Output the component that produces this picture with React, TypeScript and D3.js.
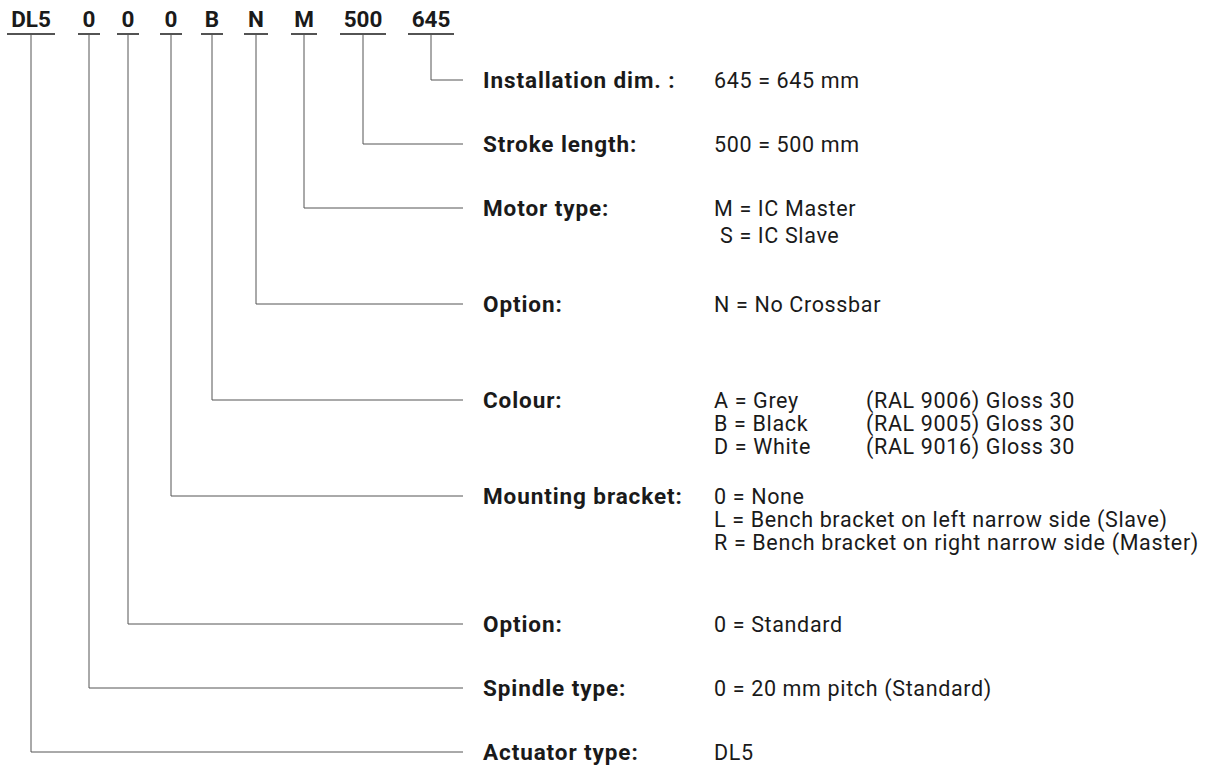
import React from "react";
import * as d3 from "d3";

// type code segments, left to right
const codes = ["DL5", "0", "0", "0", "B", "N", "M", "500", "645"];

// rows top to bottom, each one explains one code segment
const rowLabels = [
  "Installation dim. :",
  "Stroke length:",
  "Motor type:",
  "Option:",
  "Colour:",
  "Mounting bracket:",
  "Option:",
  "Spindle type:",
  "Actuator type:",
];
const rowCodeIndex = [8, 7, 6, 5, 4, 3, 2, 1, 0];
const rowValues = [
  ["645 = 645 mm"],
  ["500 = 500 mm"],
  ["M = IC Master", " S = IC Slave"],
  ["N = No Crossbar"],
  ["A = Grey|(RAL 9006) Gloss 30", "B = Black|(RAL 9005) Gloss 30", "D = White|(RAL 9016) Gloss 30"],
  [
    "0 = None",
    "L = Bench bracket on left narrow side (Slave)",
    "R = Bench bracket on right narrow side (Master)",
  ],
  ["0 = Standard"],
  ["0 = 20 mm pitch (Standard)"],
  ["DL5"],
];

// layout
const W = 1213;
const H = 769;
const codeCenters = [31, 89, 128, 171, 212, 256, 304, 363, 431];
const codeWidths = [42, 16, 16, 16, 16, 18, 20, 40, 40];
const rowSlots = [0, 2, 4, 7, 10, 13, 17, 19, 21];
const rowSubStep = [23, 23, 27, 23, 23, 23, 23, 23, 23];
const CODE_BASE = 27;
const UNDER_Y = 34;
const LINE_END = 463;
const LABEL_X = 483;
const VALUE_X = 714;
const COL2_X = 866;
const FONT = "Roboto, 'Open Sans', sans-serif";
const INK = "#1a1a1a";
const STROKE = "#555";

const App = () => {
  const y = d3.scaleLinear().domain([0, 21]).range([80, 752]);
  const codeX = d3.scaleOrdinal<number, number>().domain(d3.range(codes.length)).range(codeCenters);

  return (
    <svg
      width={W}
      height={H}
      style={{ position: "absolute", left: 0, top: 0, background: "#fff" }}
      fontFamily={FONT}
    >
      {/* code header */}
      {codes.map((c, i) => (
        <g key={"c" + i}>
          <text
            x={codeX(i)}
            y={CODE_BASE}
            textAnchor="middle"
            fontSize={22.5}
            fontWeight="bold"
            fill={INK}
          >
            {c}
          </text>
          <line
            x1={codeX(i) - codeWidths[i] / 2 - 3}
            x2={codeX(i) + codeWidths[i] / 2 + 3}
            y1={UNDER_Y}
            y2={UNDER_Y}
            stroke={INK}
            strokeWidth={1.5}
          />
        </g>
      ))}

      {/* connectors */}
      {rowLabels.map((_, r) => {
        const cx = codeX(rowCodeIndex[r]);
        const ry = y(rowSlots[r]);
        return (
          <path
            key={"p" + r}
            d={d3.line()([
              [cx, UNDER_Y],
              [cx, ry],
              [LINE_END, ry],
            ])!}
            fill="none"
            stroke={STROKE}
            strokeWidth={1}
          />
        );
      })}

      {/* labels and values */}
      {rowLabels.map((lab, r) => {
        const ry = y(rowSlots[r]);
        return (
          <g key={"r" + r} fill={INK}>
            <text x={LABEL_X} y={ry + 8} fontWeight="bold" fontSize={22.5} letterSpacing={0.9}>
              {lab}
            </text>
            {rowValues[r].map((v, k) => {
              const [a, b] = v.split("|");
              const ty = ry + 8 + k * rowSubStep[r];
              return (
                <g key={k} fontSize={21.5} letterSpacing={0.65}>
                  <text x={VALUE_X} y={ty} style={{ whiteSpace: "pre" }}>
                    {a}
                  </text>
                  {b && (
                    <text x={COL2_X} y={ty}>
                      {b}
                    </text>
                  )}
                </g>
              );
            })}
          </g>
        );
      })}
    </svg>
  );
};

export default App;
